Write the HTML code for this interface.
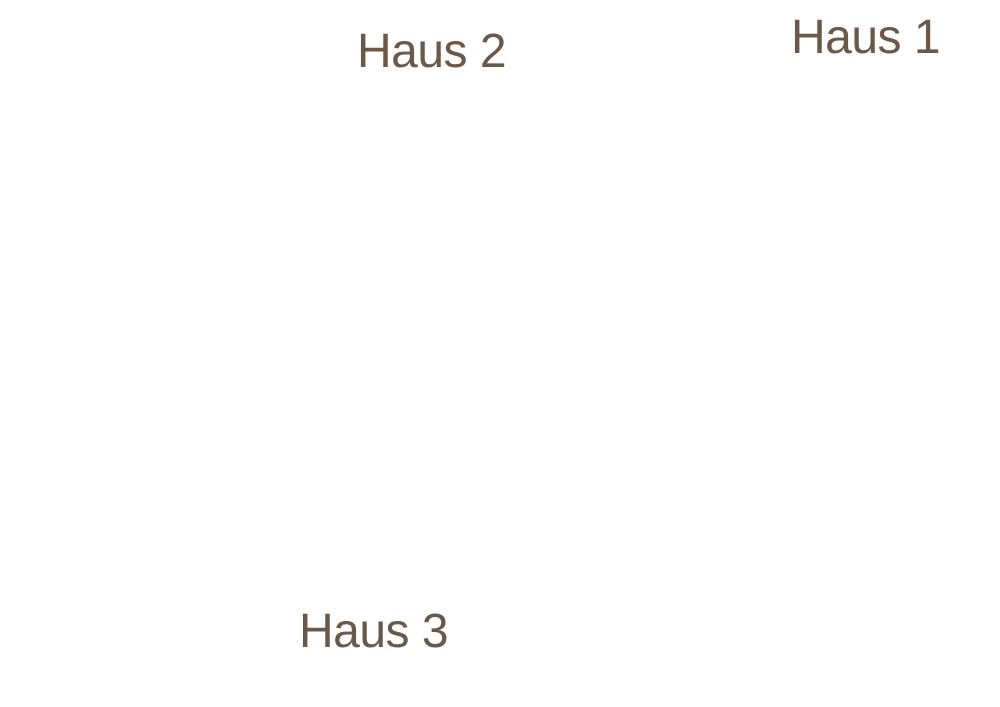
<!DOCTYPE html>
<html><head><meta charset="utf-8"><style>
html,body{margin:0;padding:0;background:#fff;}
body{width:1000px;height:707px;position:relative;overflow:hidden;font-family:"Liberation Sans",sans-serif;color:#6b5848;}
.t{position:absolute;font-size:48px;line-height:1;letter-spacing:-0.5px;white-space:nowrap;}
</style></head><body>
<div class="t" style="left:357px;top:28px;">Haus 2</div>
<div class="t" style="left:791px;top:14px;">Haus 1</div>
<div class="t" style="left:299px;top:608px;">Haus 3</div>
</body></html>
